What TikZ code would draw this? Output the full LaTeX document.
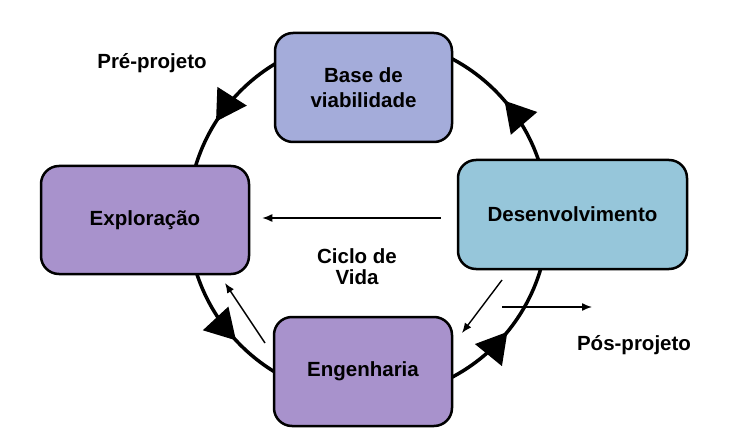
\documentclass[tikz,border=0pt]{standalone}
\usepackage{fontspec}
\setmainfont{Liberation Sans}
\usepackage{xcolor}
\usepackage{tikz}
\usetikzlibrary{arrows.meta}
\usetikzlibrary{decorations.markings}

\definecolor{viabcol}{RGB}{164,172,218}
\definecolor{fasecol}{RGB}{168,146,204}
\definecolor{desencol}{RGB}{150,198,218}

\tikzset{
	fase/.style={draw=black, line width=2.5pt, rounded corners=18pt, inner sep=0pt,
		align=center, font=\fontsize{20.5}{25}\selectfont\bfseries},
	rotulo/.style={align=center, font=\fontsize{20.5}{21}\selectfont\bfseries},
	seta/.style={line width=1.4pt, -{Latex[length=10pt,width=8pt]}},
	ponta/.style={decoration={markings, mark=at position #1 with {\arrow{Triangle[length=30pt,width=34pt]}}}},
	ciclo/.style={line width=3.5pt,
		postaction={decorate, ponta=0.113},
		postaction={decorate, ponta=0.410},
		postaction={decorate, ponta=0.619},
		postaction={decorate, ponta=0.891}}
}

\begin{document}
\begin{tikzpicture}[x=1pt,y=1pt]
\useasboundingbox (0,0) rectangle (745,440);
	%ciclo
	\coordinate (centro) at (368,222);
	\draw[ciclo] (centro) circle[radius=180];

	%fases
	\node[fase, fill=viabcol, minimum width=177pt, minimum height=109pt] (viab) at (363.5,352.5) {Base de\\viabilidade};
	\node[fase, fill=fasecol, minimum width=208pt, minimum height=108pt] (explo) at (145,220) {Explora\c{c}\~ao};
	\node[fase, fill=desencol, minimum width=229pt, minimum height=109pt] (desen) at (572.5,225.5) {Desenvolvimento};
	\node[fase, fill=fasecol, minimum width=178pt, minimum height=109pt] (engen) at (363,68.5) {Engenharia};

	%setas finas
	\draw[seta, shorten <=16pt, shorten >=12pt] (desen.west |- centro) -- (explo.east |- centro);
	\coordinate (D1) at (502,160);
	\coordinate (D2) at (462,107);
	\draw[seta] (D1)--(D2);
	\coordinate (E1) at (265,97);
	\coordinate (E2) at (225,157);
	\draw[seta] (E1)--(E2);
	\coordinate (P1) at (502,133);
	\coordinate (P2) at (592,133);
	\draw[seta] (P1)--(P2);

	%rotulos
	\node[rotulo] (pre) at (152,377) {Pr\'e-projeto};
	\node[rotulo] (vida) at (357,173) {Ciclo de\\Vida};
	\node[rotulo] (pos) at (634,95) {P\'os-projeto};
\end{tikzpicture}
\end{document}
